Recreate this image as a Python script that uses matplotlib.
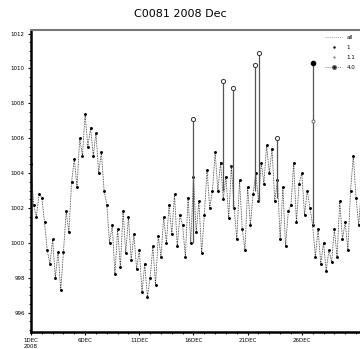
import numpy as np
import matplotlib
matplotlib.use("Agg")
import matplotlib.pyplot as plt
from matplotlib.lines import Line2D

title = "C0081 2008 Dec"
# 6-hourly pressure (hPa), 1 Dec 00Z onward
pressure = [
    1004.5, 1002.2, 1001.5, 1002.8,
    1002.6, 1001.2, 999.6, 998.8,
    1000.2, 998.0, 999.5, 997.3,
    999.5, 1001.8, 1000.6, 1003.5,
    1004.8, 1003.2, 1006.0, 1005.0,
    1007.4, 1005.5, 1006.6, 1005.0,
    1006.3, 1004.0, 1005.2, 1003.0,
    1002.2, 1000.0, 1001.0, 998.2,
    1000.8, 998.6, 1001.8, 999.4,
    1001.5, 999.0, 1000.5, 998.5,
    999.6, 997.2, 998.8, 996.9,
    998.0, 999.8, 997.6, 1000.4,
    999.2, 1001.5, 1000.0, 1002.2,
    1000.5, 1002.8, 999.8, 1001.6,
    1001.0, 999.2, 1002.6, 1000.0,
    1003.8, 1000.6, 1002.4, 999.4,
    1001.6, 1004.2, 1002.0, 1003.0,
    1005.2, 1003.0, 1004.6, 1002.5,
    1003.8, 1001.4, 1004.4, 1002.0,
    1000.2, 1003.6, 1000.8, 999.6,
    1003.2, 1001.0, 1002.8, 1004.0,
    1002.4, 1004.6, 1003.4, 1005.6,
    1004.0, 1005.4, 1002.4, 1003.6,
    1000.2, 1003.2, 999.8, 1001.8,
    1002.2, 1004.6, 1001.2, 1003.4,
    1004.0, 1001.6, 1003.0, 1002.0,
    1001.0, 999.2, 1000.8, 998.8,
    1000.0, 998.4, 999.6, 998.9,
    1000.8, 999.2, 1002.4, 1000.2,
    1001.2, 999.6, 1003.0, 1005.0,
    1002.6, 1001.0, 1003.2, 1002.0,
]
step_hours = 6

# flagged outliers: day (since 1 Dec 00Z), base value, spike value
spike_day = [14.94, 17.71, 18.63, 20.66, 21.03, 22.69]
spike_base = [1000.0, 1003.0, 1002.0, 1003.0, 1002.4, 1002.6]
spike_val = [1007.1, 1009.3, 1008.9, 1010.2, 1010.9, 1006.0]

big_day = [26.01]
big_base = [1001.0]
big_val = [1010.3]
big_mid = [1007.0]

xtick_days = [0, 5, 10, 15, 20, 25]
xtick_labels = ["1DEC\n2008", "6DEC", "11DEC", "16DEC", "21DEC", "26DEC"]
yticks = [996, 998, 1000, 1002, 1004, 1006, 1008, 1010, 1012]
legend_labels = ["all", "1", "1.1", "4.0"]

fig = plt.figure(figsize=(3.6, 3.49), dpi=100)
ax = fig.add_axes([0.086, 0.049, 0.933, 0.865])

days = np.arange(len(pressure)) * step_hours / 24.0
ax.plot(days, pressure, color="#333333", lw=0.6, ls=(0, (1, 1)),
        marker=".", ms=2.2, mfc="black", mec="black", zorder=2)

ax.vlines(spike_day, spike_base, spike_val, color="#555555", lw=0.9, zorder=3)
ax.scatter(spike_day, spike_val, s=9, facecolor="white", edgecolor="#333333",
           lw=0.7, zorder=4)
ax.vlines(big_day, big_base, big_val, color="#555555", lw=0.9, zorder=3)
ax.scatter(big_day, big_val, s=9, color="black", zorder=4)
ax.scatter(big_day, big_mid, s=5, facecolor="white", edgecolor="#555555",
           lw=0.6, zorder=4)

ax.set_xlim(0, 31)
ax.set_ylim(994.9, 1012.2)
ax.set_xticks(xtick_days)
ax.set_xticklabels(xtick_labels, fontsize=4)
ax.set_xticks(np.arange(0, 31, 1), minor=True)
ax.set_yticks(yticks)
ax.set_yticklabels([str(v) for v in yticks], fontsize=4)
ax.set_yticks(np.arange(995, 1012.5, 0.5), minor=True)
ax.tick_params(axis="both", which="major", length=2.5, width=0.8, pad=2)
ax.tick_params(axis="both", which="minor", length=1.2, width=0.6)

ax.spines["left"].set_linewidth(1.8)
ax.spines["bottom"].set_linewidth(1.8)
ax.spines["top"].set_color("#777777")
ax.spines["top"].set_linewidth(1.5)
ax.spines["right"].set_visible(False)

handles = [
    Line2D([], [], color="#777777", ls=(0, (1, 1.5)), lw=0.6),
    Line2D([], [], color="black", ls="none", marker=".", ms=1.5),
    Line2D([], [], color="#777777", ls="none", marker=".", ms=1.2),
    Line2D([], [], color="#555555", ls=(0, (1, 1.5)), lw=0.6, marker="o",
           ms=2.5, mfc="black"),
]
leg = ax.legend(handles, legend_labels, loc="upper right", fontsize=4,
                frameon=False, handlelength=3, labelspacing=0.9,
                bbox_to_anchor=(0.98, 1.0))

fig.text(0.5, 0.96, title, ha="center", va="center", fontsize=8)

fig.savefig("out.png", dpi=100)
